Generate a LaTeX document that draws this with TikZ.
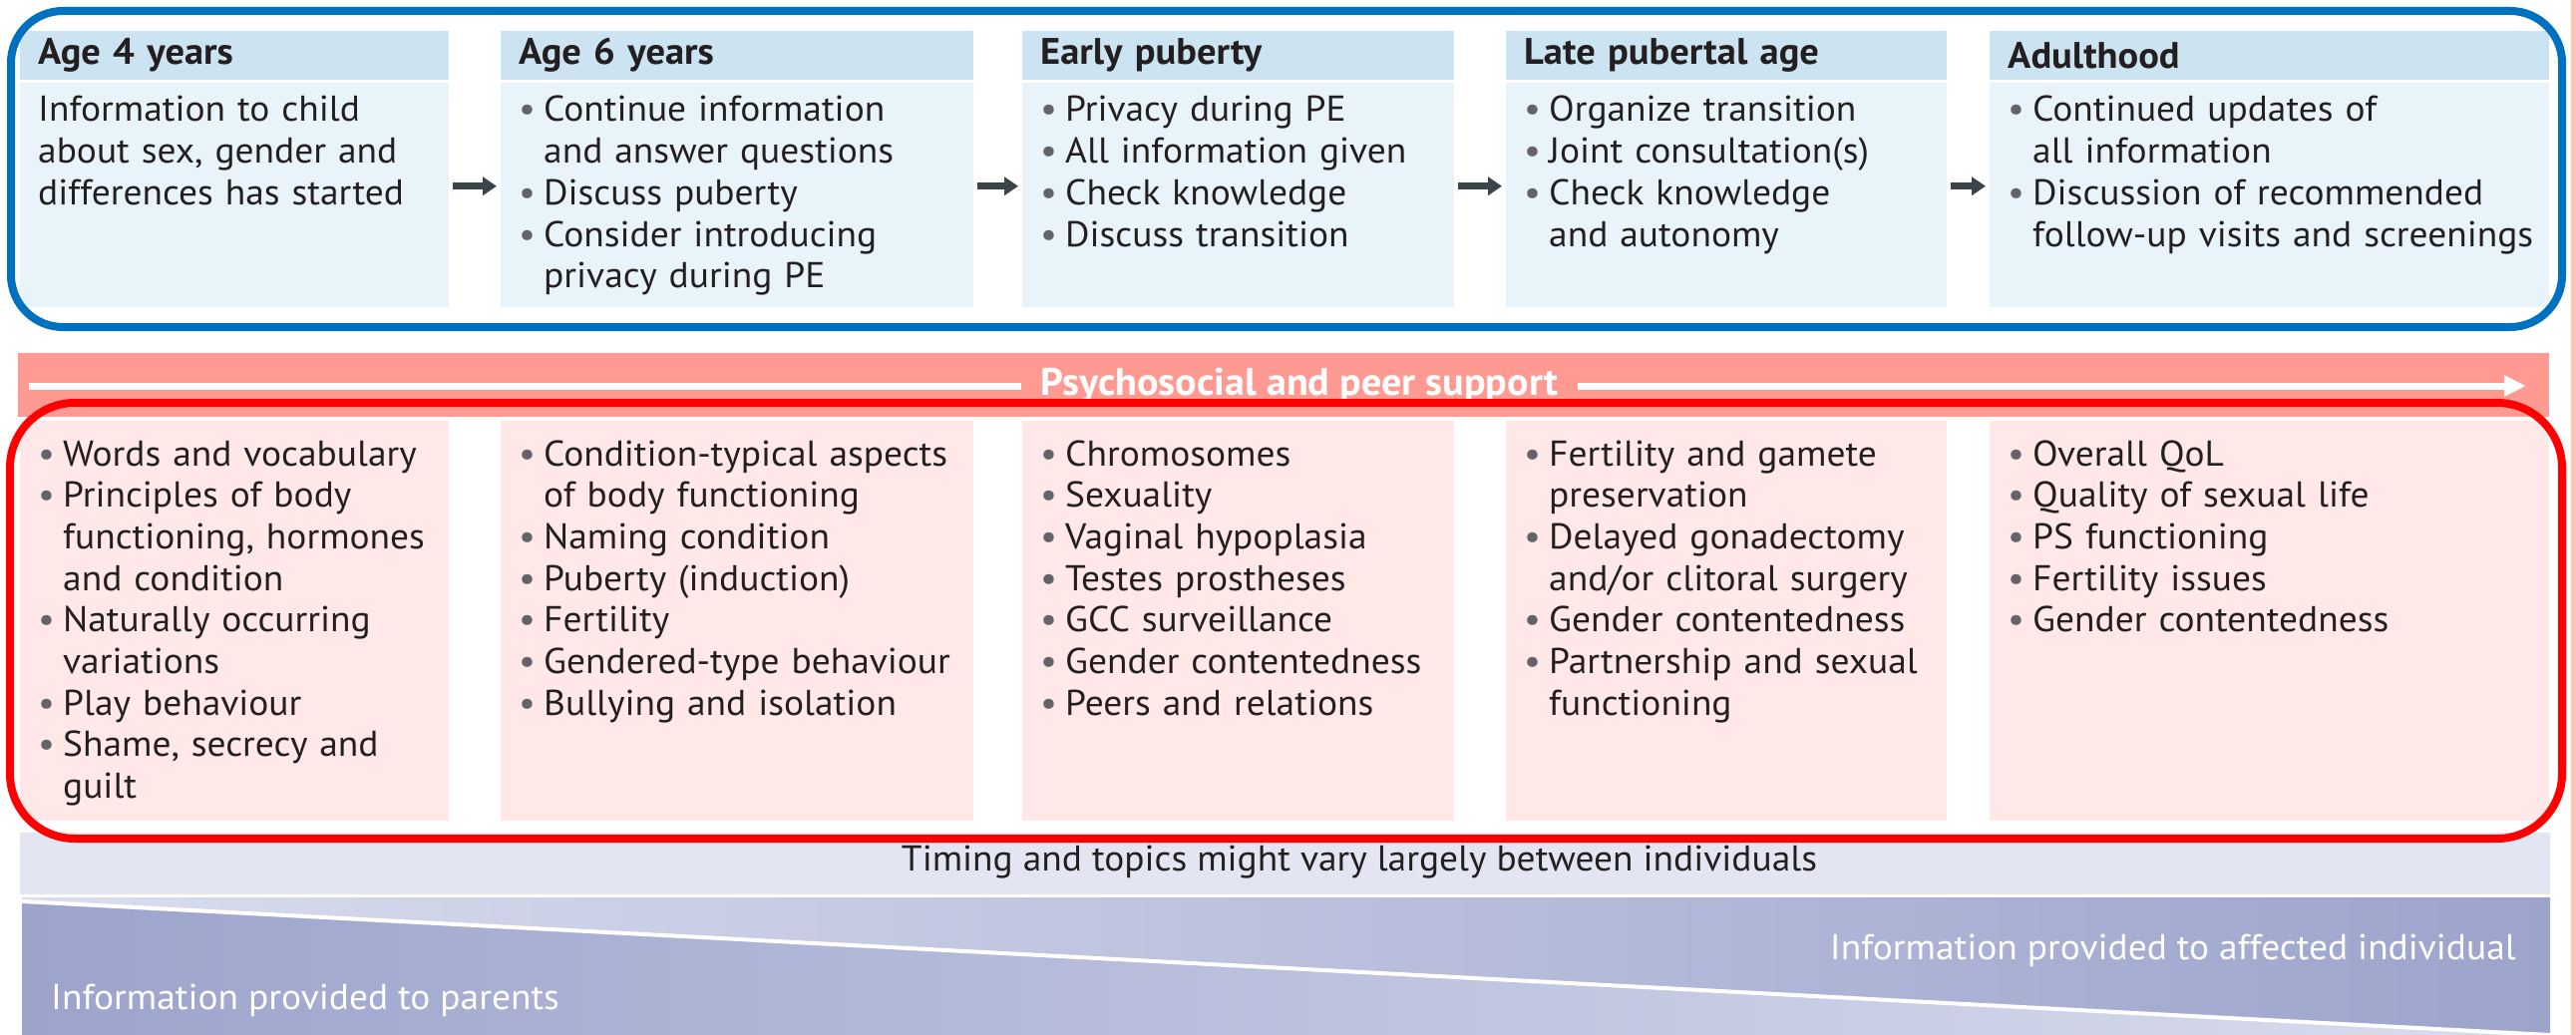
\documentclass[tikz,border=0pt]{standalone}
\usepackage{fontspec}
\setmainfont{PT Sans}[FakeStretch=1.04]
\usetikzlibrary{arrows.meta}

\definecolor{frameblue}{RGB}{0,112,192}
\definecolor{headblue}{RGB}{204,227,242}
\definecolor{bodyblue}{RGB}{232,244,250}
\definecolor{bandred}{RGB}{255,154,146}
\definecolor{bodyred}{RGB}{255,232,231}
\definecolor{notegrey}{RGB}{227,229,242}
\definecolor{shadedark}{RGB}{156,164,204}
\definecolor{shadelight}{RGB}{218,221,238}
\definecolor{ink}{RGB}{35,31,32}
\definecolor{arrowgrey}{RGB}{58,68,73}
\definecolor{bulletgrey}{RGB}{100,100,104}
\definecolor{edgepink}{RGB}{255,200,180}

% bullet with hanging indent, breaks inside an item with \newline
\newcommand{\bitem}[1]{\noindent\hangindent=25pt\hangafter=1%
  \makebox[25pt][l]{\textcolor{bulletgrey}{\textbullet}}#1\par}

\begin{document}
\begin{tikzpicture}[x=1pt,y=-1pt,
  txt/.style={font=\fontsize{36}{41.7}\selectfont,text=ink},
  head/.style={font=\fontsize{37}{41.7}\selectfont\bfseries,text=ink,
    fill=headblue,anchor=north west,minimum height=49pt,inner xsep=18pt,
    inner ysep=0pt,text width=#1-36pt,align=left},
  panel/.style={anchor=north west,minimum width=#1,inner sep=0pt},
  body/.style={txt,anchor=base west,inner sep=0pt,text width=#1,align=left},
  flowarrow/.style={arrowgrey,line width=7pt,-{Triangle[length=14pt,width=18pt]}},
  whiteline/.style={white,line width=7pt}]
\useasboundingbox (0,0) rectangle (2583,1038);
\fill[white] (0,0) rectangle (2583,1038);

% stages
\node[head=430pt] (h1) at (20,31) {Age 4 years};
\node[head=474pt] (h2) at (502,31) {Age 6 years};
\node[head=433pt] (h3) at (1025,31) {Early puberty};
\node[head=442pt] (h4) at (1510,31) {Late pubertal age};
\node[head=561pt] (h5) at (1995,31) {Adulthood};

\node[panel=430pt,fill=bodyblue,minimum height=225pt] (b1) at (20,83) {};
\node[panel=474pt,fill=bodyblue,minimum height=225pt] (b2) at (502,83) {};
\node[panel=433pt,fill=bodyblue,minimum height=225pt] (b3) at (1025,83) {};
\node[panel=442pt,fill=bodyblue,minimum height=225pt] (b4) at (1510,83) {};
\node[panel=561pt,fill=bodyblue,minimum height=225pt] (b5) at (1995,83) {};

\node[body=412pt] (t1) at ([shift={(18,39)}]b1.north west)
  {Information to child\newline about sex, gender and\newline differences has started};
\node[body=456pt] (t2) at ([shift={(18,39)}]b2.north west)
  {\bitem{Continue information\newline and answer questions}
   \bitem{Discuss puberty}
   \bitem{Consider introducing\newline privacy during PE}};
\node[body=415pt] (t3) at ([shift={(18,39)}]b3.north west)
  {\bitem{Privacy during PE}
   \bitem{All information given}
   \bitem{Check knowledge}
   \bitem{Discuss transition}};
\node[body=424pt] (t4) at ([shift={(18,39)}]b4.north west)
  {\bitem{Organize transition}
   \bitem{Joint consultation(s)}
   \bitem{Check knowledge\newline and autonomy}};
\node[body=560pt] (t5) at ([shift={(18,39)}]b5.north west)
  {\bitem{Continued updates of\newline all information}
   \bitem{Discussion of recommended\newline follow-up visits and screenings}};

\foreach \a/\b in {b1/b2,b2/b3,b3/b4,b4/b5}
  \draw[flowarrow] ([shift={(4,-9)}]\a.east) -- ([shift={(-4,-9)}]\b.west);

\draw[frameblue,line width=8pt,rounded corners=52pt] (11,11) rectangle (2569,328);

% support band
\fill[bandred] (18,354) rectangle (2556,418);
\node[font=\fontsize{38.5}{41.7}\selectfont\bfseries,text=white,inner xsep=20pt]
  (ps) at (1303,387) {Psychosocial and peer support};
\coordinate (psL) at (29,387);
\coordinate (psR) at (2533,387);
\draw[whiteline] (psL) -- (ps.west);
\draw[whiteline,-{Triangle[length=22pt,width=20pt]}] (ps.east) -- (psR);

% topics
\node[panel=430pt,fill=bodyred,minimum height=401pt] (r1) at (20,422) {};
\node[panel=474pt,fill=bodyred,minimum height=401pt] (r2) at (502,422) {};
\node[panel=433pt,fill=bodyred,minimum height=401pt] (r3) at (1025,422) {};
\node[panel=442pt,fill=bodyred,minimum height=401pt] (r4) at (1510,422) {};
\node[panel=561pt,fill=bodyred,minimum height=401pt] (r5) at (1995,422) {};

\node[body=412pt] (s1) at ([shift={(18,45)}]r1.north west)
  {\bitem{Words and vocabulary}
   \bitem{Principles of body\newline functioning, hormones\newline and condition}
   \bitem{Naturally occurring\newline variations}
   \bitem{Play behaviour}
   \bitem{Shame, secrecy and\newline guilt}};
\node[body=456pt] (s2) at ([shift={(18,45)}]r2.north west)
  {\bitem{Condition-typical aspects\newline of body functioning}
   \bitem{Naming condition}
   \bitem{Puberty (induction)}
   \bitem{Fertility}
   \bitem{Gendered-type behaviour}
   \bitem{Bullying and isolation}};
\node[body=415pt] (s3) at ([shift={(18,45)}]r3.north west)
  {\bitem{Chromosomes}
   \bitem{Sexuality}
   \bitem{Vaginal hypoplasia}
   \bitem{Testes prostheses}
   \bitem{GCC surveillance}
   \bitem{Gender contentedness}
   \bitem{Peers and relations}};
\node[body=424pt] (s4) at ([shift={(18,45)}]r4.north west)
  {\bitem{Fertility and gamete\newline preservation}
   \bitem{Delayed gonadectomy\newline and/or clitoral surgery}
   \bitem{Gender contentedness}
   \bitem{Partnership and sexual\newline functioning}};
\node[body=560pt] (s5) at ([shift={(18,45)}]r5.north west)
  {\bitem{Overall QoL}
   \bitem{Quality of sexual life}
   \bitem{PS functioning}
   \bitem{Fertility issues}
   \bitem{Gender contentedness}};

% note
\fill[notegrey] (20,835) rectangle (2557,897);
\node[txt] (note) at (1363,865) {Timing and topics might vary largely between individuals};

\draw[red,line width=8pt,rounded corners=65pt] (10,404) rectangle (2569,841);

% who is informed
\shade[left color=shadelight,right color=shadedark]
  (22,900) -- (2557,900) -- (2557,1038) -- (22,904) -- cycle;
\shade[left color=shadedark,right color=shadelight]
  (22,904) -- (2557,1038) -- (22,1038) -- cycle;
\draw[white,line width=4pt] (22,904) -- (2557,1038);
\node[txt,text=white,anchor=base west,inner sep=0pt] (par) at (51,1012)
  {Information provided to parents};
\node[txt,text=white,anchor=base east,inner sep=0pt] (ind) at (2523,962)
  {Information provided to affected individual};

\fill[edgepink] (2578,0) rectangle (2583,1038);
\end{tikzpicture}
\end{document}
